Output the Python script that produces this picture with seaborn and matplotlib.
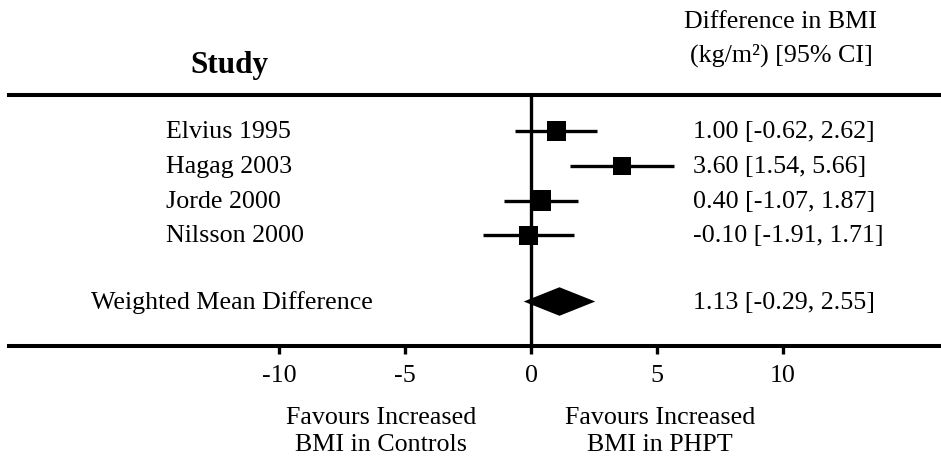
import matplotlib
matplotlib.use("Agg")
import matplotlib.pyplot as plt
import seaborn as sns
import pandas as pd

# ---- data ----
studies = ["Elvius 1995", "Hagag 2003", "Jorde 2000", "Nilsson 2000"]
mean_diff = [1.00, 3.60, 0.40, -0.10]
ci_low = [-0.62, 1.54, -1.07, -1.91]
ci_high = [2.62, 5.66, 1.87, 1.71]
weights = [26.0, 21.9, 28.8, 23.4]
pooled_label = "Weighted Mean Difference"
pooled = [1.13, -0.29, 2.55]
x_ticks = [-10, -5, 0, 5, 10]
left_note = ["Favours Increased", "BMI in Controls"]
right_note = ["Favours Increased", "BMI in PHPT"]

sns.set_theme(style="white")
plt.rcParams["font.family"] = ["Liberation Serif", "DejaVu Serif"]

W, H = 941, 460
fig = plt.figure(figsize=(W / 100, H / 100), dpi=100)

# pixel layout
px0, unit = 531.0, 25.2          # x pixel of 0, pixels per unit
row0, rstep = 132.0, 34.8        # y pixel of first row, row step
top_px, bot_px, left_px, right_px = 96.0, 347.0, 9.0, 941.0

ax = fig.add_axes([left_px / W, 1 - bot_px / H, (right_px - left_px) / W, (bot_px - top_px) / H])
ax.set_xlim((left_px - px0) / unit, (right_px - px0) / unit)
ax.set_ylim((bot_px - row0) / rstep, (top_px - row0) / rstep)

df = pd.DataFrame({"study": studies, "md": mean_diff, "lo": ci_low, "hi": ci_high,
                   "weight": weights, "row": range(len(studies))})

# zero line
ax.axvline(0, color="black", lw=2.4, zorder=1)
# CI lines
ax.hlines(df["row"], df["lo"], df["hi"], color="black", lw=2.4, zorder=2)
# squares
sns.scatterplot(data=df, x="md", y="row", size="weight", sizes=(162, 214), marker="s",
                color="black", linewidth=0, legend=False, ax=ax, zorder=3)
# diamond
prow = 4.9
h = 0.41
ax.fill([pooled[1], pooled[0], pooled[2], pooled[0]], [prow, prow - h, prow, prow + h],
        color="black", lw=0, zorder=3)

# axes styling
for s in ["left", "right"]:
    ax.spines[s].set_visible(False)
for s in ["top", "bottom"]:
    ax.spines[s].set_visible(True)
    ax.spines[s].set_linewidth(2.9)
    ax.spines[s].set_color("black")
ax.set_xticks(x_ticks)
ax.set_xticklabels([str(t) for t in x_ticks])
ax.set_yticks([])
ax.tick_params(axis="x", bottom=True, direction="out", length=6, width=2.4,
               color="black", labelsize=18.7, pad=7, labelcolor="black")
ax.set_xlabel("")
ax.set_ylabel("")
ax.grid(False)

fs = 18.7

def ftext(x, y, s, **kw):
    fig.text(x / W, 1 - y / H, s, fontsize=kw.pop("fontsize", fs), color="black", **kw)

# headers
ftext(229, 65, "Study", ha="center", va="center", fontweight="bold", fontsize=22.5)
ftext(781, 22, "Difference in BMI", ha="center", va="center")
ftext(781, 55, "(kg/m²) [95% CI]", ha="center", va="center")

# study names & estimates
for i, r in df.iterrows():
    y = row0 + rstep * r["row"]
    ftext(166, y, r["study"], ha="left", va="center")
    ftext(693, y, f"{r['md']:.2f} [{r['lo']:.2f}, {r['hi']:.2f}]", ha="left", va="center")

py = row0 + rstep * prow
ftext(373, py, pooled_label, ha="right", va="center")
ftext(693, py, f"{pooled[0]:.2f} [{pooled[1]:.2f}, {pooled[2]:.2f}]", ha="left", va="center")

# favours notes
for k, yy in enumerate([418, 445]):
    ftext(381, yy, left_note[k], ha="center", va="center")
    ftext(660, yy, right_note[k], ha="center", va="center")

fig.savefig("out.png", dpi=100)
